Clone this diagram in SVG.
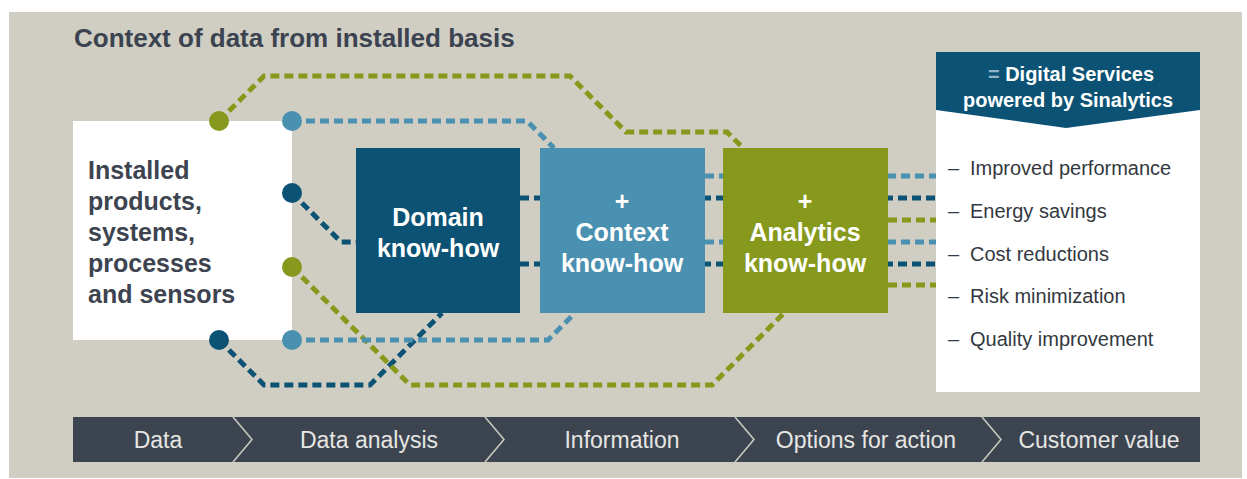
<svg xmlns="http://www.w3.org/2000/svg" width="1247" height="479" viewBox="0 0 1247 479">
<defs>
<style>
.t{font-family:"Liberation Sans",Arial,sans-serif}
.b{font-weight:bold}
.ln{fill:none;stroke-width:5;stroke-dasharray:9 5}
.g{stroke:#86991c}
.lb{stroke:#4a90b0}
.db{stroke:#0b5274}
.dg{fill:#86991c}
.dlb{fill:#4a90b0}
.ddb{fill:#0b5274}
.box{font-size:25px;fill:#ffffff;font-weight:bold;text-anchor:middle}
.item{font-size:20px;fill:#333840}
.bar{font-size:23px;fill:#e6e6e4;text-anchor:middle}
.chev{fill:none;stroke:#c9c8bf;stroke-width:1.6}
</style>
</defs>
<rect x="0" y="0" width="1247" height="479" fill="#ffffff"/>
<rect x="9" y="12" width="1233" height="466" fill="#d0cec3"/>
<text class="t b" x="74" y="47" font-size="26" fill="#3b4350">Context of data from installed basis</text>

<g id="installed">
<rect x="73" y="121" width="219" height="219" fill="#ffffff"/>
<text class="t b" font-size="25" fill="#3d4450">
<tspan x="88" y="179">Installed</tspan>
<tspan x="88" y="210">products,</tspan>
<tspan x="88" y="241">systems,</tspan>
<tspan x="88" y="272">processes</tspan>
<tspan x="88" y="303">and sensors</tspan>
</text>
</g>

<g id="connectors">
<polyline class="ln g" points="219,121 264,76 570,76 626,132 727,132 743,148"/>
<polyline class="ln lb" points="292,121 527,121 554,148"/>
<polyline class="ln db" points="292,193 341,242 356,242"/>
<polyline class="ln db" points="219,340 264,385 370,385 442,313"/>
<polyline class="ln g" points="292,267 410,385 712,385 784,313"/>
<polyline class="ln lb" points="292,340 548,340 575,313"/>
<line class="ln lb" x1="705" y1="176" x2="936" y2="176"/>
<line class="ln db" x1="520" y1="198" x2="936" y2="198"/>
<line class="ln g" x1="888" y1="220" x2="936" y2="220"/>
<line class="ln lb" x1="705" y1="242" x2="936" y2="242"/>
<line class="ln db" x1="520" y1="264" x2="936" y2="264"/>
<line class="ln g" x1="888" y1="285" x2="936" y2="285"/>
<circle class="dg" cx="219" cy="121" r="10"/>
<circle class="dlb" cx="292" cy="121" r="10"/>
<circle class="ddb" cx="292" cy="193" r="10"/>
<circle class="dg" cx="292" cy="267" r="10"/>
<circle class="ddb" cx="219" cy="340" r="10"/>
<circle class="dlb" cx="292" cy="340" r="10"/>
</g>

<g id="domain">
<rect x="356" y="148" width="164" height="165" fill="#0b5274"/>
<text class="t box"><tspan x="438" y="226">Domain</tspan><tspan x="438" y="257">know-how</tspan></text>
</g>

<g id="context">
<rect x="540" y="148" width="165" height="165" fill="#4a90b0"/>
<text class="t box"><tspan x="622" y="210">+</tspan><tspan x="622" y="241">Context</tspan><tspan x="622" y="272">know-how</tspan></text>
</g>

<g id="analytics">
<rect x="723" y="148" width="165" height="165" fill="#86991c"/>
<text class="t box"><tspan x="805" y="210">+</tspan><tspan x="805" y="241">Analytics</tspan><tspan x="805" y="272">know-how</tspan></text>
</g>

<g id="services">
<rect x="936" y="52" width="264" height="340" fill="#ffffff"/>
<polygon points="936,52 1200,52 1200,110 1066,128 936,110" fill="#0b5274"/>
<text class="t b" font-size="20" fill="#ffffff" text-anchor="middle"><tspan x="1071" y="81"><tspan fill="#8fb4ca">=</tspan> Digital Services</tspan><tspan x="1068" y="107">powered by Sinalytics</tspan></text>
<text class="t item"><tspan x="948" y="175">–</tspan><tspan x="970" y="175">Improved performance</tspan></text>
<text class="t item"><tspan x="948" y="218">–</tspan><tspan x="970" y="218">Energy savings</tspan></text>
<text class="t item"><tspan x="948" y="261">–</tspan><tspan x="970" y="261">Cost reductions</tspan></text>
<text class="t item"><tspan x="948" y="303">–</tspan><tspan x="970" y="303">Risk minimization</tspan></text>
<text class="t item"><tspan x="948" y="346">–</tspan><tspan x="970" y="346">Quality improvement</tspan></text>
</g>

<g id="process-bar">
<rect x="73" y="417" width="1127" height="45" fill="#3c4450"/>
<polyline class="chev" points="233,417 252,439.5 233,462"/>
<polyline class="chev" points="485,417 504,439.5 485,462"/>
<polyline class="chev" points="735,417 754,439.5 735,462"/>
<polyline class="chev" points="982,417 1001,439.5 982,462"/>
<text class="t bar" x="158" y="448">Data</text>
<text class="t bar" x="369" y="448">Data analysis</text>
<text class="t bar" x="622" y="448">Information</text>
<text class="t bar" x="866" y="448">Options for action</text>
<text class="t bar" x="1099" y="448">Customer value</text>
</g>
</svg>
